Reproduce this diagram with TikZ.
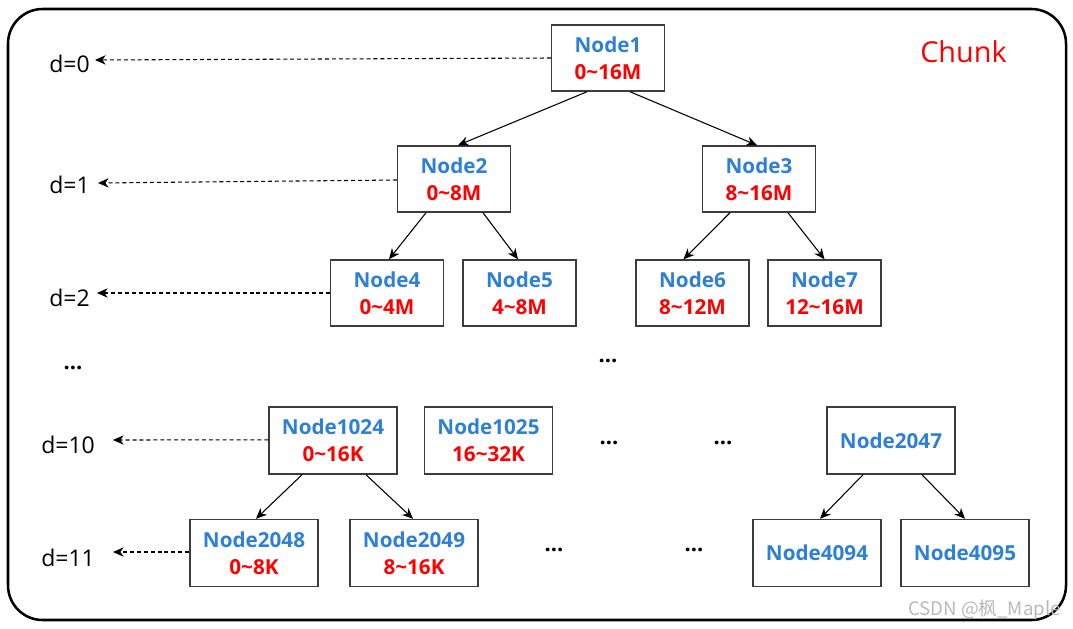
\documentclass[tikz,border=0pt]{standalone}
\usepackage{fontspec}
\setmainfont{Open Sans}
\newfontfamily\cjk{Noto Sans CJK SC}
\usetikzlibrary{arrows.meta,calc}
\definecolor{nblue}{RGB}{45,128,212}
\definecolor{boxline}{RGB}{60,60,60}
\definecolor{wmgray}{RGB}{185,185,185}
\begin{document}
\begin{tikzpicture}[x=0.75pt,y=-0.75pt,
  nbox/.style={draw=boxline,line width=1.1pt,fill=white,align=center,inner sep=0pt,
    minimum width=84.75pt,minimum height=49.5pt,
    font=\fontsize{15.5pt}{20.25pt}\selectfont\bfseries},
  wbox/.style={nbox,minimum width=96pt,minimum height=50.25pt},
  tarr/.style={-{Stealth[length=8pt,width=7pt,inset=2.5pt]},line width=0.8pt},
  darr/.style={-{Stealth[length=8pt,width=7pt,inset=2.5pt]},line width=0.8pt,dash pattern=on 3pt off 2.2pt},
  dlab/.style={anchor=base west,inner sep=0pt,font=\fontsize{17.25pt}{20pt}\selectfont},
  dotlab/.style={anchor=base,inner sep=0pt,font=\fontsize{16.5pt}{18pt}\selectfont\bfseries}
]
\useasboundingbox (0,0) rectangle (1073,628);
\draw[line width=1.9pt,rounded corners=26pt] (8,9) rectangle (1066,620);

% title
\node[anchor=base west,inner sep=0pt,text=red,font=\fontsize{21.6pt}{24pt}\selectfont] (chunk) at (920,62) {Chunk};

% tree nodes
\node[nbox] (n1) at (608,58) {\textcolor{nblue}{Node1}\\\textcolor{red}{0\textasciitilde16M}};
\node[nbox] (n2) at (454,179) {\textcolor{nblue}{Node2}\\\textcolor{red}{0\textasciitilde8M}};
\node[nbox] (n3) at (759,179) {\textcolor{nblue}{Node3}\\\textcolor{red}{8\textasciitilde16M}};
\node[nbox] (n4) at (387,293) {\textcolor{nblue}{Node4}\\\textcolor{red}{0\textasciitilde4M}};
\node[nbox] (n5) at (519.5,293) {\textcolor{nblue}{Node5}\\\textcolor{red}{4\textasciitilde8M}};
\node[nbox] (n6) at (692.5,293) {\textcolor{nblue}{Node6}\\\textcolor{red}{8\textasciitilde12M}};
\node[nbox] (n7) at (824.5,293) {\textcolor{nblue}{Node7}\\\textcolor{red}{12\textasciitilde16M}};

\node[wbox] (n1024) at (333,440.5) {\textcolor{nblue}{Node1024}\\\textcolor{red}{0\textasciitilde16K}};
\node[wbox] (n1025) at (488.5,440.5) {\textcolor{nblue}{Node1025}\\\textcolor{red}{16\textasciitilde32K}};
\node[wbox] (n2047) at (891,440.5) {\textcolor{nblue}{Node2047}};
\node[wbox] (n2048) at (254,553) {\textcolor{nblue}{Node2048}\\\textcolor{red}{0\textasciitilde8K}};
\node[wbox] (n2049) at (414,553) {\textcolor{nblue}{Node2049}\\\textcolor{red}{8\textasciitilde16K}};
\node[wbox] (n4094) at (817,553) {\textcolor{nblue}{Node4094}};
\node[wbox] (n4095) at (965,553) {\textcolor{nblue}{Node4095}};

% tree edges
\draw[tarr] ($(n1.south)+(-21,0)$) -- ($(n2.north)+(4,0)$);
\draw[tarr] ($(n1.south)+(22,0)$) -- ($(n3.north)+(-2,0)$);
\draw[tarr] ($(n2.south)+(-28,0)$) -- ($(n4.north)+(2,0)$);
\draw[tarr] ($(n2.south)+(29,0)$) -- ($(n5.north)+(-1.5,0)$);
\draw[tarr] ($(n3.south)+(-29,0)$) -- ($(n6.north)+(-9,0)$);
\draw[tarr] ($(n3.south)+(29,0)$) -- ($(n7.north)+(0,0)$);
\draw[tarr] ($(n1024.south)+(-31,0)$) -- ($(n2048.north)+(2,0)$);
\draw[tarr] ($(n1024.south)+(33,0)$) -- ($(n2049.north)+(-1,0)$);
\draw[tarr] ($(n2047.south)+(-28,0)$) -- ($(n4094.north)+(3,0)$);
\draw[tarr] ($(n2047.south)+(31,0)$) -- ($(n4095.north)+(0,0)$);

% depth labels
\node[dlab] (d0) at (49,72) {d=0};
\node[dlab] (d1) at (49,193) {d=1};
\node[dlab] (d2) at (49,306) {d=2};
\node[dlab] (d10) at (41,453) {d=10};
\node[dlab] (d11) at (41,566) {d=11};

\coordinate (t0) at (95,60);
\coordinate (t1) at (98,183);
\coordinate (t2) at (97,293);
\coordinate (t10) at (113,440);
\coordinate (t11) at (113,552);
\draw[darr] (n1.west) -- (t0);
\draw[darr] ([yshift=-0.75pt]n2.west) -- (t1);
\draw[darr] (n4.west) -- (t2);
\draw[darr] ([yshift=0.5pt]n1024.west) -- (t10);
\draw[darr] ([yshift=0.75pt]n2048.west) -- (t11);

% ellipses
\node[dotlab] (e0) at (73,369.5) {...};
\node[dotlab] (e1) at (608,362.5) {...};
\node[dotlab] (e2) at (609,444.5) {...};
\node[dotlab] (e3) at (723,444.5) {...};
\node[dotlab] (e4) at (554,551.5) {...};
\node[dotlab] (e5) at (694,551.5) {...};

% watermark
\node[anchor=base east,inner sep=0pt,text=wmgray,font=\cjk\fontsize{14pt}{16pt}\selectfont] (wm) at (1061,615) {CSDN @枫\_Maple};
\end{tikzpicture}
\end{document}
